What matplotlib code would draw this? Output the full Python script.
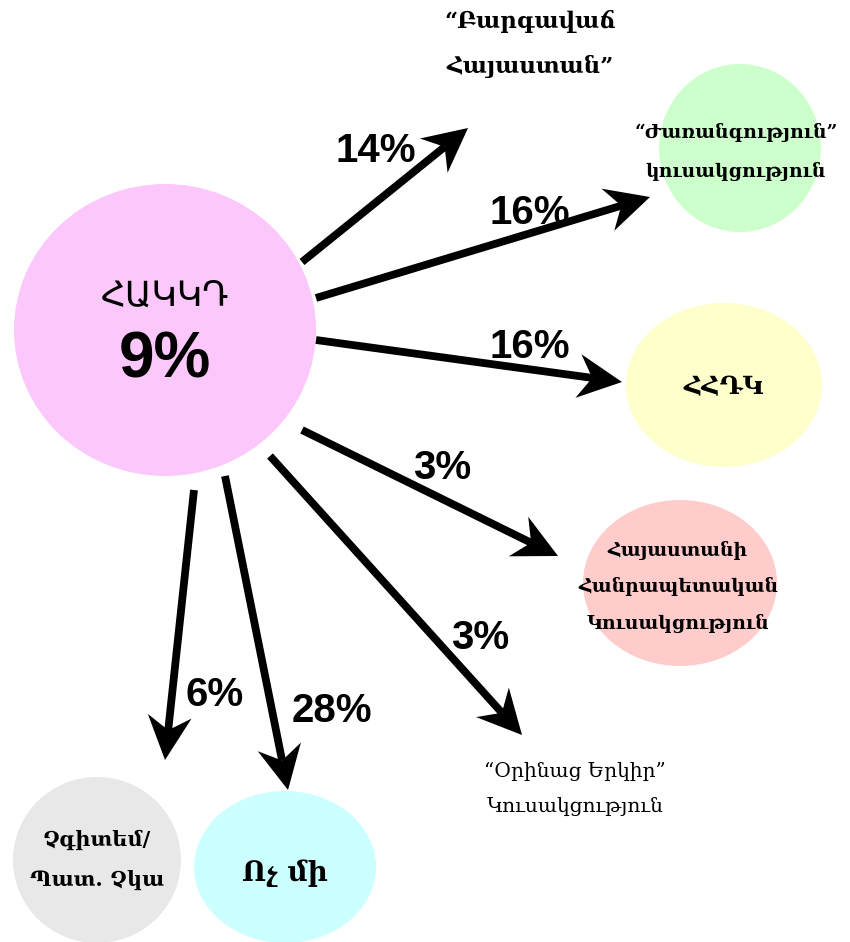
import numpy as np
import matplotlib
matplotlib.use("Agg")
import matplotlib.pyplot as plt
from matplotlib.patches import Ellipse, Polygon

# ── Data ──────────────────────────────────────────────────────
center_label = "ՀԱԿԿԴ"
center_value = "9%"

targets = [
    "“Բարգավաճ\nՀայաստան”",
    "“Ժառանգություն”\nկուսակցություն",
    "ՀՀԴԿ",
    "Հայաստանի\nՀանրապետական\nԿուսակցություն",
    "“Օրինաց Երկիր”\nԿուսակցություն",
    "Ոչ մի",
    "Չգիտեմ/\nՊատ. Չկա",
]
flows = [14, 16, 16, 3, 3, 28, 6]

# ── Layout (pixel coords, y down) ─────────────────────────────
# bubbles: (cx, cy, w, h, colour) or None when label stands alone
bubbles = [
    None,
    (740, 148, 162, 168, "#ccffcc"),
    (724, 385, 196, 164, "#ffffcc"),
    (680, 583, 194, 166, "#ffcccc"),
    None,
    (285, 867, 182, 152, "#ccffff"),
    (97, 860, 168, 166, "#e8e8e8"),
]
label_pos = [(530, 44), (736, 152), (724, 387), (678, 587), (575, 789), (285, 873), (97, 860)]
label_size = [16.5, 13.5, 18, 13.5, 14.5, 20, 15]
label_space = [2.2, 2.3, 1.2, 2.15, 2.05, 1.2, 2.2]
label_bold = [True, True, True, True, False, True, True]
arrows = [
    ((302, 262), (468, 128)),
    ((316, 298), (650, 197)),
    ((316, 340), (622, 382)),
    ((302, 430), (558, 556)),
    ((270, 456), (522, 735)),
    ((225, 476), (288, 790)),
    ((194, 490), (165, 760)),
]
pct_pos = [(376, 151), (530, 213), (530, 347), (442, 468), (480, 638), (332, 711), (215, 695)]

ARM = ["DejaVu Serif"]

fig = plt.figure(figsize=(8.5, 9.42), dpi=100)
ax = fig.add_axes([0, 0, 1, 1])
ax.set_xlim(0, 850)
ax.set_ylim(942, 0)
ax.axis("off")

# centre bubble
ax.add_patch(Ellipse((165, 330), 302, 292, color="#fcc8fc", lw=0, zorder=1))
ax.text(165, 296, center_label, ha="center", va="center", fontsize=25,
        family=["DejaVu Sans"], zorder=5)
ax.text(165, 360, center_value, ha="center", va="center", fontsize=46,
        fontweight="bold", family=["Liberation Sans"], zorder=5)

for b in bubbles:
    if b is not None:
        cx, cy, w, h, c = b
        ax.add_patch(Ellipse((cx, cy), w, h, color=c, lw=0, zorder=1))

for lab, (x, y), fs, sp, bold in zip(targets, label_pos, label_size, label_space, label_bold):
    ax.text(x, y, lab, ha="center", va="center", fontsize=fs,
            fontweight="bold" if bold else "normal", family=ARM,
            linespacing=sp, zorder=5)


def draw_arrow(p0, p1, lw=5.6, L=44, W=22, notch=14):
    p0, p1 = np.array(p0, float), np.array(p1, float)
    d = (p1 - p0) / np.linalg.norm(p1 - p0)
    n = np.array([-d[1], d[0]])
    base = p1 - d * L
    end = p1 - d * (L - notch)
    ax.plot([p0[0], end[0]], [p0[1], end[1]],
            color="black", lw=lw, solid_capstyle="butt", zorder=3)
    head = [p1, base + n * W, end, base - n * W]
    ax.add_patch(Polygon(head, closed=True, color="black", lw=0, zorder=4))


for (p0, p1), v, (x, y) in zip(arrows, flows, pct_pos):
    draw_arrow(p0, p1)
    ax.text(x, y, f"{v}%", ha="center", va="center", fontsize=29,
            fontweight="bold", family=["Liberation Sans"], zorder=5)

plt.savefig("out.png", dpi=100)
plt.close()
